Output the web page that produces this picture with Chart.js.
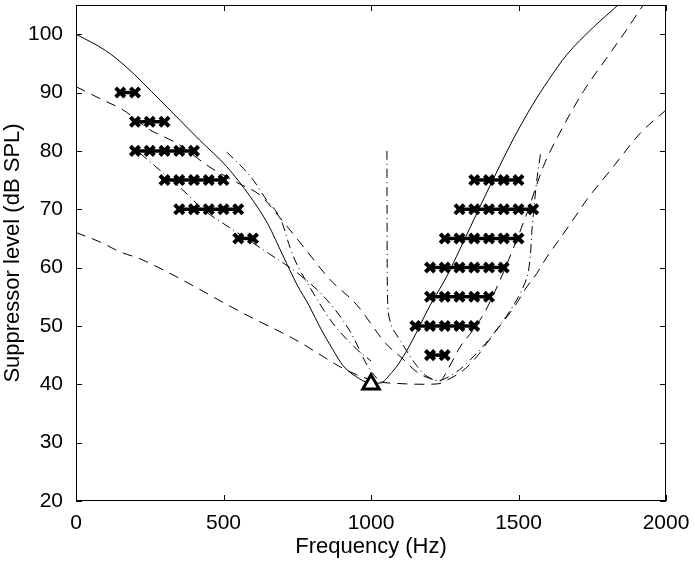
<!DOCTYPE html>
<html><head><meta charset="utf-8">
<script src="https://cdn.jsdelivr.net/npm/chart.js@4/dist/chart.umd.min.js"></script>
<style>html,body{margin:0;padding:0;background:#fff}canvas{display:block}</style>
</head><body>
<canvas id="c" width="695" height="561"></canvas>
<script>
// ---- data ----
const solidCurve = [[0,100],[100,97.2],[170,94.4],[285,88.7],[420,81.8],[511,77.3],[590,72.2],[650,67.5],[702,62],[750,57],[790,53.5],[830,49.5],[870,46],[905,43.2],[950,41.3],[990,40.3],[1030,40.2],[1070,42],[1100,44],[1140,47.5],[1200,53.5],[1257,58.5],[1300,63],[1369,70.4],[1437,77.5],[1482,82],[1549,88],[1600,92],[1664,96.5],[1750,101],[1844,105.3],[1900,108]];
const upperDashed = [[0,91],[92,88.7],[160,87],[251,83.6],[342,81.3],[454,77.2],[545,74.6],[624,72.4],[700,68],[780,63],[860,58],[952,53.6],[1050,47],[1105,44.5],[1158,42],[1200,41],[1234,40.6],[1260,42.5],[1302,46.4],[1346,49.3],[1386,52.4],[1430,57],[1480,63],[1530,69.5],[1584,77.3],[1641,83.2],[1720,90.2],[1800,96],[1870,101],[1912,104.2],[1960,107.5]];
const lowerDashed = [[0,66],[81,64.4],[149,62.7],[217,61.5],[300,59.5],[400,56.8],[500,54],[600,51.3],[700,48.8],[766,47],[830,45],[895,43],[963,41.4],[1031,40.4],[1108,40.1],[1180,40],[1230,40.1],[1257,40.7],[1313,42.4],[1358,44.7],[1392,47],[1426,49.3],[1460,51.5],[1494,53.9],[1528,56.7],[1562,59],[1596,61.8],[1641,65],[1708,69.9],[1731,71.6],[1820,77.2],[1912,83],[2000,87]];
const dashDotLow = [[217,79.6],[300,76],[381,72.4],[420,70.4],[522,66.8],[651,62.5],[760,58.7],[850,54.5],[930,49],[990,43],[1020,41]];
const dashDotMid = [[511,79.8],[567,77],[601,75],[646,71.6],[680,69.5],[700,67.5],[725,63.5],[742,61.3],[800,56],[870,50.5],[952,46],[1000,44]];
const dashDotHigh = [[1054,80],[1054.5,70],[1055,60],[1058,52.5],[1071,49.8],[1098,47.6],[1143,44],[1183,41.6],[1230,40.6],[1300,42.5],[1380,46.5],[1450,51],[1500,55],[1530,58.5],[1540,62],[1545,66],[1552,70],[1562,75],[1576,80]];
const probe = [[1000,40]];
// suppression data: level and the frequencies marked at that level
const markerLevels = [90,85,80,75,70,65, 75,70,65,60,55,50,45];
const markerFreqs = [
  [150,200],
  [200,250,300],
  [200,250,300,350,400],
  [300,350,400,450,500],
  [350,400,450,500,550],
  [550,600],
  [1350,1400,1450,1500],
  [1300,1350,1400,1450,1500,1550],
  [1250,1300,1350,1400,1450,1500],
  [1200,1250,1300,1350,1400,1450],
  [1200,1250,1300,1350,1400],
  [1150,1200,1250,1300,1350],
  [1200,1250]
];
const xTicks = [0,500,1000,1500,2000];
const yTicks = [20,30,40,50,60,70,80,90,100];

const toPts = a => a.map(p => ({x:p[0], y:p[1]}));
const lineDs = (pts, dash, mono) => ({type:'line', data:toPts(pts), borderColor:'#000', borderWidth:1, borderDash:dash,
  pointRadius:0, cubicInterpolationMode: mono ? 'monotone' : 'default', tension: mono ? 0 : 0.25, fill:false, order:2});

const datasets = [
  lineDs(solidCurve, [], true),
  lineDs(upperDashed, [10,7], true),
  lineDs(lowerDashed, [10,7], true),
  lineDs(dashDotLow, [9,4,1,4], true),
  lineDs(dashDotMid, [9,4,1,4], true),
  lineDs(dashDotHigh, [9,4,1,4], false)
];
markerLevels.forEach((lvl, i) => {
  datasets.push({type:'line', data: markerFreqs[i].map(f => ({x:f, y:lvl})), borderColor:'#000', borderWidth:3.5,
    pointStyle:'crossRot', pointRadius:6.5, pointBorderWidth:4, pointBorderColor:'#000', tension:0, order:1});
});
datasets.push({type:'scatter', data:toPts(probe), pointStyle:'triangle', pointRadius:9.5, pointBorderWidth:3,
  pointBorderColor:'#000', pointBackgroundColor:'#fff', order:0});

const FONT = "'Liberation Sans', Arial, Helvetica, sans-serif";

const frame = {
  id:'frame',
  afterDatasetsDraw(chart){
    const {ctx, chartArea:a, scales:{x, y}} = chart;
    ctx.save();
    ctx.strokeStyle = '#000'; ctx.lineWidth = 1;
    ctx.strokeRect(a.left+0.5, a.top+0.5, a.right-a.left-1, a.bottom-a.top-1);
    const L = 6;
    ctx.beginPath();
    xTicks.forEach(v => { const px = Math.round(x.getPixelForValue(v))+0.5;
      ctx.moveTo(px, a.bottom); ctx.lineTo(px, a.bottom-L);
      ctx.moveTo(px, a.top); ctx.lineTo(px, a.top+L); });
    yTicks.forEach(v => { const py = Math.round(y.getPixelForValue(v))+0.5;
      ctx.moveTo(a.left, py); ctx.lineTo(a.left+L, py);
      ctx.moveTo(a.right, py); ctx.lineTo(a.right-L, py); });
    ctx.stroke();
    ctx.restore();
  }
};

new Chart(document.getElementById('c'), {
  type:'line',
  data:{datasets},
  options:{
    responsive:false, animation:false, devicePixelRatio:1,
    layout:{autoPadding:false, padding:{top:5, right:29, left:0, bottom:0}},
    plugins:{legend:{display:false}, tooltip:{enabled:false}},
    scales:{
      x:{type:'linear', min:0, max:2000,
        afterBuildTicks: s => { s.ticks = xTicks.map(v => ({value:v})); },
        afterFit: s => { s.height = 60; s.paddingLeft = 0; s.paddingRight = 0; },
        grid:{display:false, drawTicks:false}, border:{display:false},
        ticks:{color:'#000', font:{family:FONT, size:21}, padding:10, maxRotation:0, callback: v => String(v)},
        title:{display:true, text:'Frequency (Hz)', color:'#000', font:{family:FONT, size:22}, padding:{top:0,bottom:1}}
      },
      y:{type:'linear', min:20, max:105,
        afterBuildTicks: s => { s.ticks = yTicks.map(v => ({value:v})); },
        afterFit: s => { s.width = 76; s.paddingTop = 0; s.paddingBottom = 0; },
        grid:{display:true, drawOnChartArea:false, drawTicks:true, tickLength:13, color:'rgba(0,0,0,0)'}, border:{display:false},
        ticks:{color:'#000', font:{family:FONT, size:21, lineHeight:0.4}, padding:0, callback: v => String(v)},
        title:{display:true, text:'Suppressor level (dB SPL)', color:'#000', font:{family:FONT, size:22}, padding:{top:0,bottom:0}}
      }
    }
  },
  plugins:[frame]
});
</script>
</body></html>
